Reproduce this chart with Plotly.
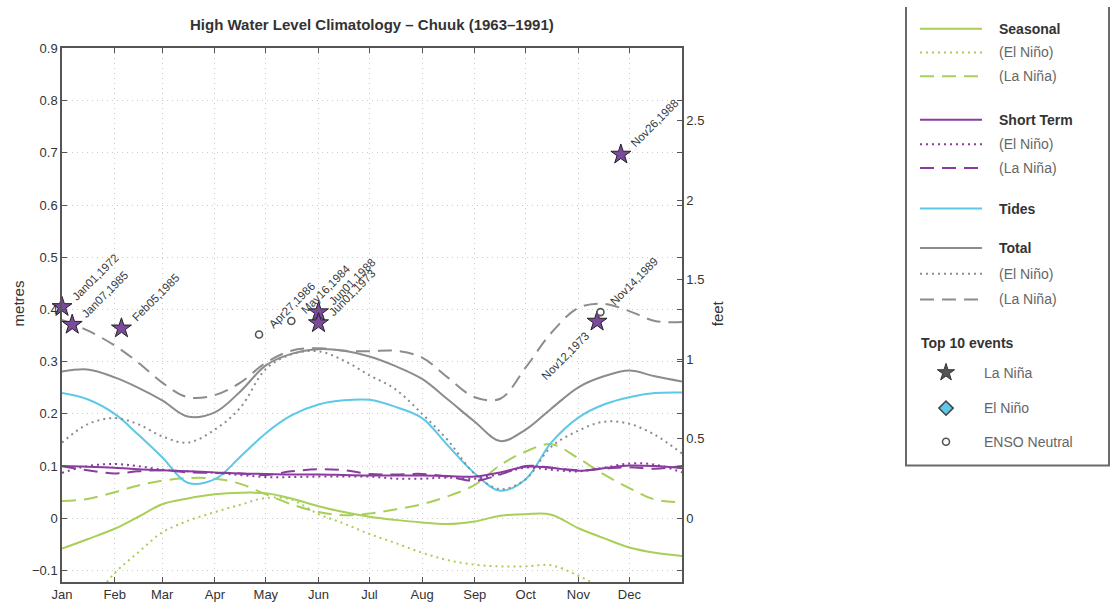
import plotly.graph_objects as go

# ---------------- data ----------------
months = ["Jan", "Feb", "Mar", "Apr", "May", "Jun", "Jul", "Aug", "Sep", "Oct", "Nov", "Dec"]
month_start_days = [0, 31, 59, 90, 120, 151, 181, 212, 243, 273, 304, 334]
days = [0, 15, 31, 45, 59, 74, 90, 105, 120, 135, 151, 166, 181, 196, 212, 227,
        243, 258, 273, 288, 304, 319, 334, 349, 365]

seasonal = [-0.058, -0.040, -0.020, 0.003, 0.027, 0.038, 0.046, 0.049, 0.048, 0.038,
            0.023, 0.012, 0.003, -0.003, -0.008, -0.011, -0.006, 0.005, 0.008, 0.007,
            -0.019, -0.038, -0.056, -0.066, -0.072]
seasonal_elnino = [-0.23, -0.17, -0.105, -0.065, -0.027, -0.005, 0.012, 0.026, 0.039, 0.036,
                   0.008, -0.010, -0.030, -0.047, -0.066, -0.080, -0.089, -0.092, -0.092, -0.090,
                   -0.110, -0.135, -0.160, -0.180, -0.200]
seasonal_lanina = [0.033, 0.037, 0.050, 0.063, 0.072, 0.077, 0.076, 0.066, 0.046, 0.027,
                   0.012, 0.006, 0.009, 0.017, 0.027, 0.042, 0.064, 0.102, 0.128, 0.142,
                   0.115, 0.084, 0.058, 0.036, 0.031]
short_term = [0.100, 0.099, 0.097, 0.094, 0.092, 0.090, 0.088, 0.086, 0.085, 0.084,
              0.084, 0.083, 0.082, 0.082, 0.082, 0.081, 0.080, 0.088, 0.099, 0.097,
              0.091, 0.096, 0.101, 0.100, 0.096]
short_elnino = [0.087, 0.100, 0.104, 0.100, 0.093, 0.090, 0.087, 0.083, 0.079, 0.079,
                0.080, 0.080, 0.080, 0.076, 0.076, 0.078, 0.076, 0.085, 0.097, 0.093,
                0.090, 0.097, 0.105, 0.103, 0.088]
short_lanina = [0.100, 0.092, 0.086, 0.090, 0.092, 0.088, 0.087, 0.086, 0.083, 0.090,
                0.094, 0.092, 0.085, 0.084, 0.085, 0.080, 0.072, 0.084, 0.100, 0.097,
                0.092, 0.095, 0.098, 0.095, 0.100]
tides = [0.240, 0.228, 0.200, 0.160, 0.117, 0.068, 0.075, 0.118, 0.163, 0.197,
         0.218, 0.226, 0.227, 0.214, 0.192, 0.140, 0.086, 0.053, 0.075, 0.145,
         0.193, 0.218, 0.232, 0.240, 0.241]
total = [0.281, 0.285, 0.270, 0.250, 0.226, 0.195, 0.203, 0.243, 0.293, 0.315,
         0.324, 0.321, 0.310, 0.292, 0.267, 0.228, 0.185, 0.148, 0.170, 0.210,
         0.251, 0.272, 0.283, 0.272, 0.262]
total_elnino = [0.145, 0.180, 0.192, 0.180, 0.157, 0.145, 0.170, 0.212, 0.286, 0.314,
                0.320, 0.302, 0.274, 0.248, 0.200, 0.150, 0.085, 0.056, 0.075, 0.137,
                0.168, 0.185, 0.181, 0.160, 0.124]
total_lanina = [0.380, 0.360, 0.331, 0.298, 0.260, 0.232, 0.236, 0.260, 0.298, 0.321,
                0.326, 0.321, 0.320, 0.321, 0.308, 0.270, 0.232, 0.229, 0.289, 0.355,
                0.403, 0.411, 0.397, 0.378, 0.376]

event_labels = ["Jan01,1972", "Jan07,1985", "Feb05,1985", "Apr27,1986", "May16,1984",
                "Jun01,1988", "Jun01,1973", "Nov12,1973", "Nov14,1989", "Nov26,1988"]
event_days = [0, 6, 35, 116, 135, 151, 151, 315, 317, 329]
event_values = [0.405, 0.371, 0.364, 0.352, 0.378, 0.395, 0.374, 0.377, 0.395, 0.697]
event_types = ["La Niña", "La Niña", "La Niña", "ENSO Neutral", "ENSO Neutral",
               "La Niña", "La Niña", "La Niña", "ENSO Neutral", "La Niña"]

left_ticks = [-0.1, 0, 0.1, 0.2, 0.3, 0.4, 0.5, 0.6, 0.7, 0.8, 0.9]
left_ticktext = ["\u22120.1", "0", "0.1", "0.2", "0.3", "0.4", "0.5", "0.6", "0.7", "0.8", "0.9"]
feet_ticks = [0, 0.5, 1, 1.5, 2, 2.5]
feet_ticktext = ["0", "0.5", "1", "1.5", "2", "2.5"]
Y_MIN, Y_MAX = -0.122, 0.9
M_PER_FT = 0.3048

# ---------------- style ----------------
GREEN = "#a8cf58"
PURPLE = "#8a3c9e"
CYAN = "#5ec8e8"
GRAY = "#8c8c8c"
TXT = "#333333"
FONT = "Liberation Sans, Arial, sans-serif"
DOT = "2px,4px"
DASH = "14px,8px"

W, H = 1115, 605
ML, MB = 62, 23
PW = W - ML
PH = H - MB
# main plot region in pixels: x 62..682, y 42..582
main_dom_x = [0, (682 - ML) / PW]
main_dom_y = [0, (582 - 42) / PH]

fig = go.Figure()

series = [
    (seasonal, GREEN, "solid"), (seasonal_elnino, GREEN, DOT), (seasonal_lanina, GREEN, DASH),
    (tides, CYAN, "solid"),
    (total, GRAY, "solid"), (total_elnino, GRAY, DOT), (total_lanina, GRAY, DASH),
    (short_term, PURPLE, "solid"), (short_elnino, PURPLE, DOT), (short_lanina, PURPLE, DASH),
]
for ys, col, dash in series:
    fig.add_trace(go.Scatter(x=days, y=ys, mode="lines",
                             line=dict(color=col, width=2, dash=dash, shape="spline", smoothing=1),
                             showlegend=False, hoverinfo="skip"))

# events
for lab, d, v, t in zip(event_labels, event_days, event_values, event_types):
    if t == "La Niña":
        mk = dict(symbol="star", size=15, color="#7c4a9c", line=dict(color="#222", width=1))
    else:
        mk = dict(symbol="circle", size=7, color="white", line=dict(color="#555", width=1.6))
    fig.add_trace(go.Scatter(x=[d], y=[v], mode="markers", marker=mk, cliponaxis=False,
                             showlegend=False, hoverinfo="skip"))

annotations = []
for lab, d, v in zip(event_labels, event_days, event_values):
    if lab == "Nov12,1973":
        annotations.append(dict(x=d, y=v, xref="x", yref="y", text=lab, showarrow=False,
                                textangle=-45, xanchor="right", yanchor="top", xshift=-3, yshift=-5,
                                font=dict(family=FONT, size=11.5, color="#3a3a3a")))
    else:
        annotations.append(dict(x=d, y=v, xref="x", yref="y", text=lab, showarrow=False,
                                textangle=-45, xanchor="left", yanchor="bottom", xshift=5, yshift=2,
                                font=dict(family=FONT, size=11.5, color="#3a3a3a")))

# dummy trace for the feet axis
fig.add_trace(go.Scatter(x=[0], y=[0], yaxis="y2", mode="markers", marker=dict(opacity=0),
                         showlegend=False, hoverinfo="skip"))

# ---------------- manual legend (pixel-coordinate axes x3/y3) ----------------
LX0, LX1 = 904, W
LY0, LY1 = 0, 470
leg_lines = [
    (22, GREEN, "solid"), (46, GREEN, DOT), (70, GREEN, DASH),
    (114, PURPLE, "solid"), (139, PURPLE, DOT), (163, PURPLE, DASH),
    (204, CYAN, "solid"),
    (244, GRAY, "solid"), (270, GRAY, DOT), (296, GRAY, DASH),
]
leg_texts = [
    (22, "Seasonal", True), (46, "(El Niño)", False), (70, "(La Niña)", False),
    (114, "Short Term", True), (139, "(El Niño)", False), (163, "(La Niña)", False),
    (204, "Tides", True),
    (244, "Total", True), (270, "(El Niño)", False), (296, "(La Niña)", False),
]
for yy, col, dash in leg_lines:
    fig.add_trace(go.Scatter(x=[920, 982], y=[yy, yy], xaxis="x3", yaxis="y3", mode="lines",
                             line=dict(color=col, width=2, dash=dash),
                             showlegend=False, hoverinfo="skip"))
for yy, txt, bold in leg_texts:
    annotations.append(dict(x=997, y=yy, xref="x3", yref="y3", showarrow=False,
                            text=f"<b>{txt}</b>" if bold else txt, xanchor="left", yanchor="middle",
                            font=dict(family=FONT, size=14, color=TXT if bold else "#666")))
annotations.append(dict(x=919, y=340, xref="x3", yref="y3", showarrow=False,
                        text="<b>Top 10 events</b>", xanchor="left", yanchor="middle",
                        font=dict(family=FONT, size=14, color=TXT)))
ev_leg = [
    (370, "La Niña", dict(symbol="star", size=13, color="#555", line=dict(color="#333", width=1))),
    (406, "El Niño", dict(symbol="diamond", size=11, color="#5ec8e8", line=dict(color="#444", width=1.5))),
    (440, "ENSO Neutral", dict(symbol="circle", size=7, color="white", line=dict(color="#555", width=1.6))),
]
for yy, txt, mk in ev_leg:
    fig.add_trace(go.Scatter(x=[946], y=[yy], xaxis="x3", yaxis="y3", mode="markers", marker=mk,
                             showlegend=False, hoverinfo="skip"))
    annotations.append(dict(x=982, y=yy, xref="x3", yref="y3", showarrow=False, text=txt,
                            xanchor="left", yanchor="middle",
                            font=dict(family=FONT, size=14, color="#666")))

shapes = [dict(type="rect", xref="x3", yref="y3", x0=906, x1=1109, y0=-5, y1=464,
               line=dict(color="#6a6a6a", width=2), fillcolor="rgba(0,0,0,0)")]

# titles
annotations.append(dict(x=(372 - ML) / PW, y=(PH - 18) / PH, xref="paper", yref="paper",
                        text="<b>High Water Level Climatology \u2013 Chuuk (1963\u20131991)</b>",
                        showarrow=False, xanchor="center", yanchor="middle",
                        font=dict(family=FONT, size=15, color=TXT)))
annotations.append(dict(x=(18 - ML) / PW, y=(PH - 300) / PH, xref="paper", yref="paper",
                        text="metres", textangle=-90, showarrow=False,
                        xanchor="center", yanchor="middle",
                        font=dict(family=FONT, size=15, color=TXT)))
annotations.append(dict(x=(717 - ML) / PW, y=(PH - 310) / PH, xref="paper", yref="paper",
                        text="feet", textangle=-90, showarrow=False,
                        xanchor="center", yanchor="middle",
                        font=dict(family=FONT, size=15, color=TXT)))

AX = "#555555"
GRID = "#cccccc"
GDASH = "1px,4px"
fig.update_layout(
    width=W, height=H,
    margin=dict(l=ML, r=0, t=0, b=MB),
    paper_bgcolor="white", plot_bgcolor="white",
    showlegend=False,
    font=dict(family=FONT, size=13, color=TXT),
    xaxis=dict(domain=main_dom_x, range=[0, 365], tickvals=month_start_days, ticktext=months,
               ticks="inside", ticklen=5, tickcolor=AX, showline=True, linecolor=AX, linewidth=1.5,
               mirror="ticks", showgrid=True, gridcolor=GRID, griddash=GDASH, gridwidth=1,
               zeroline=False, tickfont=dict(size=13, color=TXT), fixedrange=True),
    yaxis=dict(domain=main_dom_y, range=[Y_MIN, Y_MAX], tickvals=left_ticks, ticktext=left_ticktext,
               ticks="inside", ticklen=5, tickcolor=AX, showline=True, linecolor=AX, linewidth=1.5,
               mirror="ticks", showgrid=True, gridcolor=GRID, griddash=GDASH, gridwidth=1,
               zeroline=False, tickfont=dict(size=13, color=TXT)),
    yaxis2=dict(overlaying="y", side="right", range=[Y_MIN / M_PER_FT, Y_MAX / M_PER_FT],
                tickvals=feet_ticks, ticktext=feet_ticktext, ticks="inside", ticklen=5, tickcolor=AX,
                showline=True, linecolor=AX, linewidth=1.5, showgrid=False, zeroline=False,
                tickfont=dict(size=13, color=TXT)),
    xaxis3=dict(domain=[(LX0 - ML) / PW, 1.0], range=[LX0, LX1], visible=False, anchor="y3"),
    yaxis3=dict(domain=[(PH - LY1) / PH, 1.0], range=[LY1, LY0], visible=False, anchor="x3"),
    annotations=annotations,
    shapes=shapes,
)

fig.write_html("out.html", config={"displayModeBar": False},
               post_script="document.body.style.margin='0px';")
